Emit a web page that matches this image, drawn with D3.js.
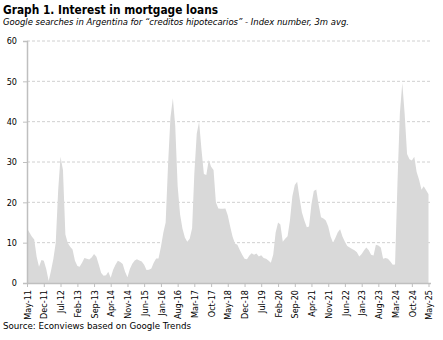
<!DOCTYPE html>
<html><head><meta charset="utf-8">
<script src="https://cdn.jsdelivr.net/npm/d3@7"></script>
<style>
body{margin:0;background:#fff;}
svg{display:block;}
text{font-family:"DejaVu Sans Condensed","DejaVu Sans",sans-serif;fill:#000;}
</style></head>
<body><svg id="c" width="443" height="340"></svg>
<script>
const title = "Graph 1. Interest in mortgage loans";
const subtitle = "Google searches in Argentina for \u201ccreditos hipotecarios\u201d - Index number, 3m avg.";
const source = "Source: Econviews based on Google Trends";
const startMonth = "May-11";
const values = [
13.6,12.5,11.5,10.8,6.5,4.0,5.7,5.5,3.5,0.5,3.0,6.0,10.0,23,31.3,28,12,9.9,9.0,8.3,
5.5,4.2,4.0,5.0,6.2,6.0,5.8,6.3,7.2,6.5,4.5,2.5,1.8,1.9,2.8,1.3,3.2,4.5,5.5,5.2,
4.7,2.8,1.4,3.5,4.8,5.6,5.9,5.6,5.3,4.5,3.2,3.3,3.6,5.0,6.1,6.1,9.0,12.5,15,29.5,
41,45.8,39,24,17,13.5,11.3,10.2,11,13.6,27,37,40,33,27,26.8,30.5,28.8,28,20,
18.5,18.4,18.4,18.5,16.8,14,11.5,9.8,9.5,8.2,7.0,6.0,5.9,6.8,7.4,7.0,7.3,6.6,6.9,6.2,
6.0,5.6,5.0,7.0,12.5,15.0,14.5,10.2,11,11.6,15.5,21.5,24.3,25.1,21,17.5,15.5,13.8,14,19.5,
22.8,23.2,19.5,16.3,16,15.5,14,11.5,10,11.2,12.5,13.3,11.5,10.2,9.2,8.8,8.4,8.1,7.6,6.6,
7.2,8.1,8.8,8.1,7.0,6.8,9.5,9.3,8.8,6.0,6.2,6.0,5.3,4.5,4.6,25,42,49.6,42,32,
30.7,30.4,31.3,27.5,25.6,23.1,24,23,22
];
const xTickLabels = ["May-11","Dec-11","Jul-12","Feb-13","Sep-13","Apr-14","Nov-14","Jun-15","Jan-16","Aug-16","Mar-17","Oct-17","May-18","Dec-18","Jul-19","Feb-20","Sep-20","Apr-21","Nov-21","Jun-22","Jan-23","Aug-23","Mar-24","Oct-24","May-25"];
const yTicks = [0,10,20,30,40,50,60];

const parse = d3.timeParse("%b-%y");
const start = parse(startMonth);
const data = values.map((v,i)=>({date:d3.timeMonth.offset(start,i), v}));
const tickDates = xTickLabels.map(parse);

const svg = d3.select("#c");
const L=27, R=428.5, T=41, B=283;
const x = d3.scaleTime().domain([data[0].date, data[data.length-1].date]).range([L,R]);
const y = d3.scaleLinear().domain([0,60]).range([B,T]);

// gridlines
svg.append("g").selectAll("line").data(yTicks.filter(d=>d>0)).join("line")
  .attr("x1",L).attr("x2",431).attr("y1",d=>y(d)).attr("y2",d=>y(d))
  .attr("stroke","#d0d0d0").attr("stroke-width",1).attr("stroke-dasharray","3,2");

// area
svg.append("path").datum(data)
  .attr("d", d3.area().x(d=>x(d.date)).y0(y(0)).y1(d=>y(d.v)))
  .attr("fill","#d9d9d9");

// y axis
const ya = svg.append("g").attr("transform",`translate(${L},0)`)
  .call(d3.axisLeft(y).tickValues(yTicks).tickSize(4).tickPadding(6).tickFormat(d3.format("d")));
ya.select(".domain").attr("stroke","#bfbfbf").attr("stroke-width",1.5);
ya.selectAll(".tick line").attr("stroke","#bfbfbf");
ya.selectAll("text").style("font-size","9px").attr("fill","#000");

// x axis
const xa = svg.append("g").attr("transform",`translate(0,${B})`)
  .call(d3.axisBottom(x).tickValues(tickDates).tickSize(4).tickFormat((d,i)=>xTickLabels[i]));
xa.select(".domain").attr("stroke","#bfbfbf").attr("stroke-width",1.5).attr("d",`M${L},0.5H431`);
xa.selectAll(".tick line").attr("stroke","#bfbfbf");
xa.selectAll("text").style("font-size","9px").attr("fill","#000")
  .attr("text-anchor","end").attr("transform","rotate(-90)")
  .attr("x",-7).attr("y",0).attr("dy","0.35em");

// texts
svg.append("text").attr("x",3).attr("y",13.5).text(title)
  .style("font-size","13px").style("font-weight","bold")
  .attr("textLength",215).attr("lengthAdjust","spacingAndGlyphs");
svg.append("text").attr("x",3).attr("y",24.5).text(subtitle)
  .style("font-size","9px").style("font-style","italic")
  .attr("textLength",346).attr("lengthAdjust","spacingAndGlyphs");
svg.append("text").attr("x",3).attr("y",329).text(source)
  .style("font-size","9px")
  .attr("textLength",188).attr("lengthAdjust","spacingAndGlyphs");
</script></body></html>
